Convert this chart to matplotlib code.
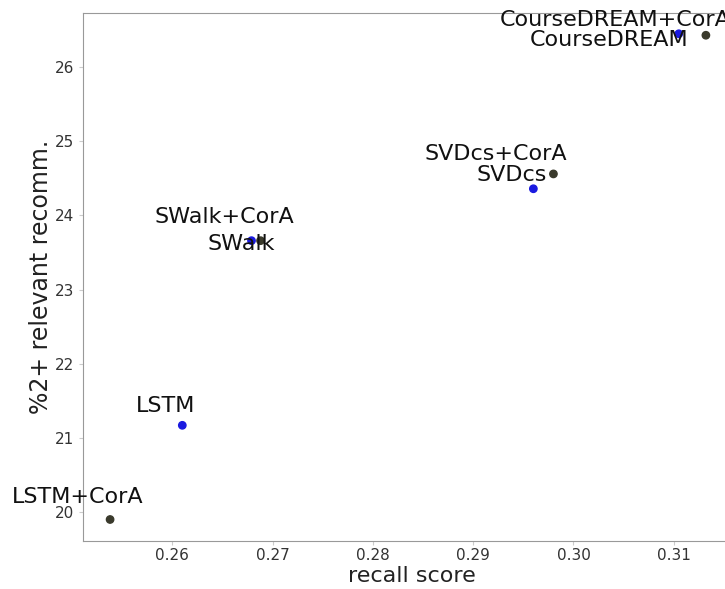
import matplotlib
matplotlib.use("Agg")
import matplotlib.pyplot as plt

methods = ["CourseDREAM", "CourseDREAM+CorA", "SVDcs", "SVDcs+CorA",
           "SWalk", "SWalk+CorA", "LSTM", "LSTM+CorA"]
recall = [0.3105, 0.3132, 0.2960, 0.2980, 0.2679, 0.2688, 0.2610, 0.2538]
relevant = [26.45, 26.43, 24.36, 24.56, 23.66, 23.66, 21.17, 19.90]
colors = ["#1a1ae0", "#3a3a2c", "#1a1ae0", "#3a3a2c",
          "#1a1ae0", "#3a3a2c", "#1a1ae0", "#3a3a2c"]
# label offsets in pixels (dx, dy) from the point
offsets = [(-70, -6), (-91, 15), (-22, 14), (-58, 20),
           (-10, -3), (-36, 24), (-17, 19), (-32, 22)]
yticks = [20, 21, 22, 23, 24, 25, 26]
xticks = [0.26, 0.27, 0.28, 0.29, 0.30, 0.31]

fig = plt.figure(figsize=(7.25, 5.89), dpi=100)
ax = fig.add_axes([83/725, 48/589, 657/725, 528/589])
ax.scatter(recall, relevant, c=colors, s=28, zorder=3)
for m, x, y, (dx, dy) in zip(methods, recall, relevant, offsets):
    ax.annotate(m, (x, y), xytext=(dx, dy), textcoords="offset pixels",
                ha="center", va="center", fontsize=16, color="#111111",
                annotation_clip=False)

ax.set_xlim(0.2511, 0.3166)
ax.set_ylim(19.61, 26.73)
ax.set_xticks(xticks)
ax.set_xticklabels([f"{t:.2f}" for t in xticks])
ax.set_yticks(yticks)
ax.tick_params(labelsize=11, colors="#333333", length=3, color="#cccccc")
ax.tick_params(axis="x", pad=2)
for s in ax.spines.values():
    s.set_color("#999999")
ax.set_xlabel("recall score", fontsize=16, color="#222222", labelpad=2)
ax.set_ylabel("%2+ relevant recomm.", fontsize=17, color="#222222", labelpad=1)
fig.savefig("out.png", dpi=100)
